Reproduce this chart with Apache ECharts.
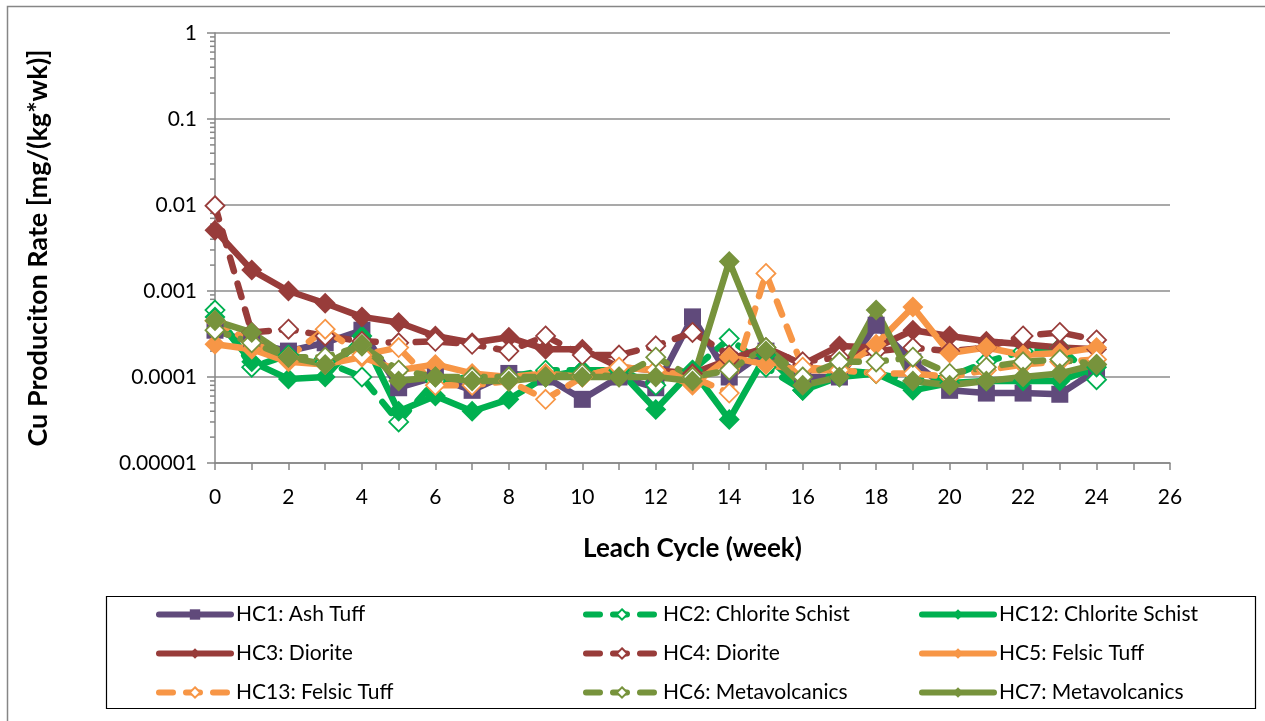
<!DOCTYPE html>
<html><head><meta charset="utf-8">
<script src="https://cdn.jsdelivr.net/npm/echarts@6/dist/echarts.min.js"></script>
<style>html,body{margin:0;padding:0;background:#fff}#c{width:1265px;height:721px}</style>
</head><body><div id="c"></div>
<script>
var weeks = [0,1,2,3,4,5,6,7,8,9,10,11,12,13,14,15,16,17,18,19,20,21,22,23,24];
var HC1  = [0.00035,0.00025,0.0002,0.00025,0.00035,0.000075,0.0001,0.00007,0.00011,0.0001,0.000055,0.0001,0.000075,0.0005,0.0001,0.0002,0.0001,0.0001,0.0004,0.00015,0.00007,0.000065,0.000065,0.000063,0.00012];
var HC2  = [0.0006,0.00013,0.00018,0.00015,0.0001,0.00003,0.00009,0.0001,0.0001,0.00012,0.00012,0.00012,0.00008,0.00012,0.00028,0.00013,0.00007,0.00012,0.00011,0.00009,0.0001,0.00015,0.0002,0.00022,0.000093];
var HC12 = [0.0005,0.00015,0.000095,0.0001,0.0003,0.00004,0.00006,0.00004,0.000055,0.0001,0.00012,0.00012,0.000042,0.00012,0.000032,0.00018,0.00007,0.0001,0.00011,0.00007,0.000085,0.00009,0.00009,0.00009,0.00013];
var HC3  = [0.0051,0.00175,0.001,0.00072,0.0005,0.00043,0.0003,0.00025,0.00029,0.00021,0.00021,0.00013,0.00012,0.00011,0.00016,0.00022,0.00014,0.00023,0.00022,0.00035,0.0003,0.00026,0.00024,0.00022,0.00021];
var HC4  = [0.0098,0.00033,0.00036,0.0003,0.00026,0.00025,0.00026,0.00024,0.0002,0.0003,0.00018,0.00018,0.00023,0.00033,0.00018,0.0002,0.00015,0.00017,0.0002,0.00022,0.0002,0.00022,0.0003,0.00033,0.00027];
var HC5  = [0.00024,0.00021,0.00015,0.00014,0.00017,0.00012,0.00014,0.00011,0.0001,0.00011,0.0001,0.00013,0.00012,0.00008,0.00017,0.00014,0.00012,0.00012,0.00024,0.00065,0.00019,0.00022,0.00018,0.00019,0.00022];
var HC13 = [0.00045,0.00025,0.00017,0.00036,0.00018,0.00022,0.00008,0.00008,0.00009,0.000055,0.0001,0.00013,0.00012,0.0001,0.000065,0.0016,0.00013,0.00012,0.00011,0.00011,0.0001,0.00012,0.00014,0.00015,0.00016];
var HC6  = [0.00035,0.00025,0.00017,0.00017,0.00023,0.00012,0.0001,0.0001,0.0001,0.0001,0.00011,0.0001,0.00017,0.0001,0.00012,0.00022,0.0001,0.00015,0.00015,0.00017,0.00011,0.00013,0.00015,0.00016,0.00014];
var HC7  = [0.00045,0.00033,0.00017,0.00014,0.00024,0.00009,0.0001,0.00009,0.00009,0.0001,0.0001,0.0001,0.0001,0.00009,0.0022,0.0002,0.00008,0.0001,0.0006,0.00009,0.00008,0.00009,0.0001,0.00011,0.00014];
var yTickLabels = ['0.00001','0.0001','0.001','0.01','0.1','1'];
var xTickLabels = ['0','2','4','6','8','10','12','14','16','18','20','22','24','26'];
var yMinorTicks = [];
[1e-5,1e-4,1e-3,1e-2,1e-1].forEach(function(d){for(var k=2;k<=9;k++)yMinorTicks.push(d*k);});

var FONT = 'Lato';
var PURPLE='#604A7B', GREEN='#00B050', RED='#983C3A', ORANGE='#F79646', OLIVE='#77933C';

function mk(name, data, color, dashed, marker){
  var open = dashed;
  return {
    name: name, type: 'line', data: weeks.map(function(w,i){return [w,data[i]];}),
    symbol: marker, symbolSize: marker==='rect'?17:(open?19:21),
    lineStyle: {color: color, width: 6.5, type: dashed?[14,13]:'solid', cap: 'round', join:'round'},
    itemStyle: {color: open?'#fff':color, borderColor: color, borderWidth: open?1.8:0},
    emphasis: {disabled: true}, animation: false
  };
}
var series = [
  mk('HC1: Ash Tuff', HC1, PURPLE, false, 'rect'),
  mk('HC2: Chlorite Schist', HC2, GREEN, true, 'diamond'),
  mk('HC12: Chlorite Schist', HC12, GREEN, false, 'diamond'),
  mk('HC3: Diorite', HC3, RED, false, 'diamond'),
  mk('HC4: Diorite', HC4, RED, true, 'diamond'),
  mk('HC5: Felsic Tuff', HC5, ORANGE, false, 'diamond'),
  mk('HC13: Felsic Tuff', HC13, ORANGE, true, 'diamond'),
  mk('HC6: Metavolcanics', HC6, OLIVE, true, 'diamond'),
  mk('HC7: Metavolcanics', HC7, OLIVE, false, 'diamond')
];
series.push({
  type: 'custom', silent: true, clip: false, z: 1,
  data: yMinorTicks.map(function(v){return [0, v];}),
  renderItem: function(params, api){
    var p = api.coord([api.value(0), api.value(1)]);
    return {type:'line', shape:{x1:p[0]-5,y1:p[1],x2:p[0],y2:p[1]}, style:{stroke:'#868686', lineWidth:1.5}};
  }
});

function leg(names, left){
  return {
    data: names, orient: 'vertical', left: left, top: 604, padding: 0,
    itemWidth: 72, itemHeight: 13, itemGap: 18,
    lineStyle: {width: 6},
    textStyle: {fontFamily: FONT, fontSize: 21, color: '#000', lineHeight: 20}, selectedMode: false
  };
}
var chart = echarts.init(document.getElementById('c'));
chart.setOption({
  animation: false,
  grid: {left: 215, right: 95, top: 33, bottom: 258},
  xAxis: {
    type: 'value', min: 0, max: 26, interval: 2,
    name: 'Leach Cycle (week)', nameLocation: 'middle', nameGap: 73,
    nameTextStyle: {fontFamily: FONT, fontSize: 26, fontWeight: 'bold', color: '#000'},
    axisLine: {lineStyle: {color: '#868686', width: 1.5}},
    axisTick: {show: true, length: 7, lineStyle: {color: '#868686', width: 1.5}},
    minorTick: {show: true, splitNumber: 2, length: 7, lineStyle: {color: '#868686', width: 1.5}},
    splitLine: {show: false},
    axisLabel: {fontFamily: FONT, fontSize: 21, color: '#000', margin: 24,
      formatter: function(v){return xTickLabels[Math.round(v/2)];}}
  },
  yAxis: {
    type: 'log', logBase: 10, min: 0.00001, max: 1,
    name: 'Cu Produciton Rate [mg/(kg*wk)]', nameLocation: 'middle', nameGap: 163,
    nameTextStyle: {fontFamily: FONT, fontSize: 27, fontWeight: 'bold', color: '#000'},
    axisLine: {show: true, lineStyle: {color: '#868686', width: 1.5}},
    axisTick: {show: true, length: 8, lineStyle: {color: '#868686', width: 1.5}},
    splitLine: {show: true, lineStyle: {color: '#8C8C8C', width: 1.5}},
    axisLabel: {fontFamily: FONT, fontSize: 21, color: '#000', margin: 18,
      formatter: function(v){return yTickLabels[Math.round(Math.log10(v))+5];}}
  },
  legend: [
    leg(['HC1: Ash Tuff','HC3: Diorite','HC13: Felsic Tuff'], 156),
    leg(['HC2: Chlorite Schist','HC4: Diorite','HC6: Metavolcanics'], 583),
    leg(['HC12: Chlorite Schist','HC5: Felsic Tuff','HC7: Metavolcanics'], 919)
  ],
  graphic: [
    {type:'rect', shape:{x:7.5,y:6.5,width:1270,height:730}, style:{fill:null, stroke:'#868686', lineWidth:1.5}, silent:true},
    {type:'rect', shape:{x:106.5,y:596.5,width:1149,height:112}, style:{fill:null, stroke:'#000', lineWidth:1.2}, silent:true}
  ],
  series: series
});
</script></body></html>
